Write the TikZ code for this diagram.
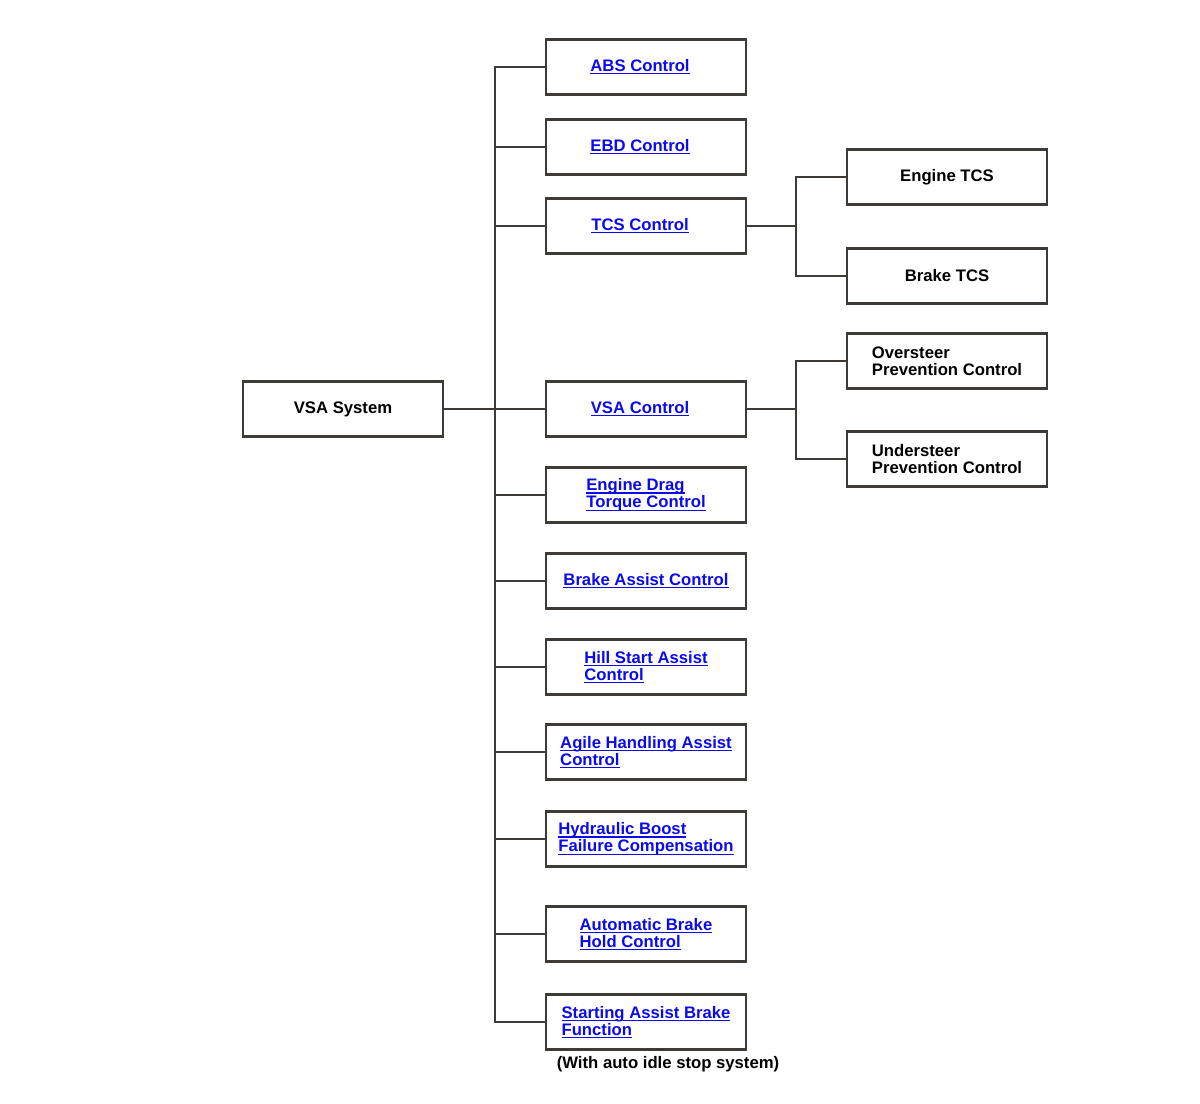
\documentclass[tikz,border=0pt]{standalone}
\usepackage{fontspec}
\setmainfont{Liberation Sans}
\definecolor{linkblue}{RGB}{10,10,235}
\definecolor{boxline}{RGB}{62,58,56}
\newcommand\lk[1]{\leavevmode\setbox0\hbox{#1}\rlap{\rule[-1.6pt]{\wd0}{0.6pt}}\box0}
\begin{document}
\begin{tikzpicture}[x=0.02cm,y=-0.02cm]
        \tikzset{
            fnbox/.style={draw=boxline,line width=1.3pt,minimum width=4cm,minimum height=1.1cm,inner sep=0pt,
                font=\fontsize{9.5pt}{9.8pt}\selectfont\bfseries,align=left},
            linkbox/.style={fnbox,text=linkblue},
            wire/.style={draw=boxline,line width=1.1pt},
        }
        \useasboundingbox (0,0) rectangle (1200,1103);

        \node[fnbox] (sys) at(343,409) {VSA System};

        \node[linkbox] (abs) at(646,67) {\lk{ABS Control}\hspace{0.24cm}};
        \node[linkbox] (ebd) at(646,147) {\lk{EBD Control}\hspace{0.24cm}};
        \node[linkbox] (tcs) at(646,226) {\lk{TCS Control}\hspace{0.24cm}};
        \node[linkbox] (vsa) at(646,409) {\lk{VSA Control}\hspace{0.24cm}};
        \node[linkbox] (edtc) at(646,495) {\lk{Engine Drag}\\\lk{Torque Control}\hspace{0.1cm}};
        \node[linkbox] (bac) at(646,581) {\lk{Brake Assist Control}};
        \node[linkbox] (hsa) at(646,667) {\lk{Hill Start Assist}\\\lk{Control}};
        \node[linkbox] (aha) at(646,752) {\lk{Agile Handling Assist}\\\lk{Control}};
        \node[linkbox] (hbfc) at(646,839) {\lk{Hydraulic Boost}\\\lk{Failure Compensation}\hspace{0.08cm}};
        \node[linkbox] (abh) at(646,934) {\lk{Automatic Brake}\\\lk{Hold Control}};
        \node[linkbox] (sab) at(646,1022) {\lk{Starting Assist Brake}\\\lk{Function}};
        \node[font=\fontsize{9.5pt}{9.8pt}\selectfont\bfseries] (note) at(668,1064) {(With auto idle stop system)};

        \node[fnbox] (etcs) at(947,177) {Engine TCS};
        \node[fnbox] (btcs) at(947,276) {Brake TCS};
        \node[fnbox] (osp) at(947,361) {Oversteer\\Prevention Control};
        \node[fnbox] (usp) at(947,459) {Understeer\\Prevention Control};

        \coordinate (trunk) at(495,0);
        \coordinate (fork) at(796,0);

        \draw[wire] (sys) -- (vsa);
        \draw[wire] (abs.west) -| (trunk |- sab.west) -- (sab.west);
        \foreach \n in {ebd,tcs,edtc,bac,hsa,aha,hbfc,abh}
            \draw[wire] (\n.west) -- (trunk |- \n.west);

        \draw[wire] (etcs.west) -| (fork |- btcs.west) -- (btcs.west);
        \draw[wire] (tcs.east) -- (fork |- tcs.east);
        \draw[wire] (osp.west) -| (fork |- usp.west) -- (usp.west);
        \draw[wire] (vsa.east) -- (fork |- vsa.east);
    \end{tikzpicture}
\end{document}
